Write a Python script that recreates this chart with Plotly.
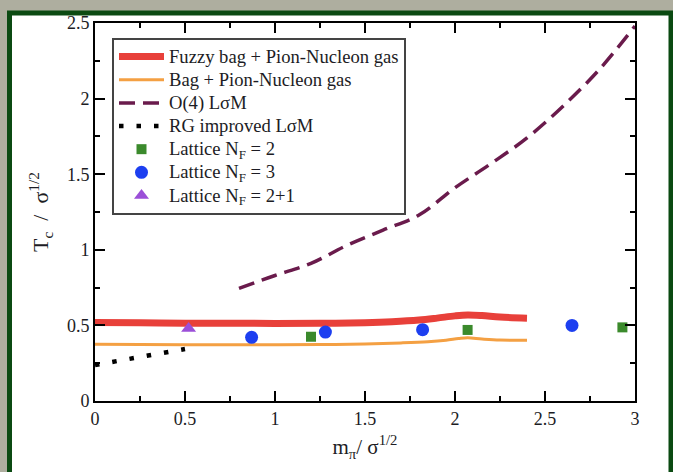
import plotly.graph_objects as go

# ---- data ----
fuzzy_x = [0.0, 0.25, 0.5, 0.75, 1.0, 1.25, 1.5, 1.65, 1.8, 1.9, 2.0, 2.07, 2.15, 2.25, 2.4]
fuzzy_y = [0.520, 0.518, 0.515, 0.514, 0.513, 0.514, 0.518, 0.524, 0.535, 0.548, 0.563, 0.569, 0.565, 0.555, 0.548]

bag_x = [0.0, 0.25, 0.5, 0.75, 1.0, 1.25, 1.5, 1.7, 1.85, 1.95, 2.02, 2.07, 2.15, 2.25, 2.4]
bag_y = [0.375, 0.373, 0.372, 0.372, 0.372, 0.373, 0.377, 0.384, 0.392, 0.402, 0.413, 0.418, 0.410, 0.403, 0.402]

o4_x = [0.80, 1.0, 1.2, 1.4, 1.6, 1.8, 2.0, 2.2, 2.4, 2.6, 2.8, 3.0]
o4_y = [0.745, 0.83, 0.91, 1.03, 1.13, 1.23, 1.41, 1.57, 1.74, 1.95, 2.19, 2.48]

rg_x = [0.0, 0.1, 0.2, 0.3, 0.4, 0.5]
rg_y = [0.238, 0.258, 0.278, 0.300, 0.322, 0.344]

lat2_x = [1.20, 2.07, 2.93]
lat2_y = [0.425, 0.470, 0.487]

lat3_x = [0.87, 1.28, 1.82, 2.65]
lat3_y = [0.421, 0.456, 0.472, 0.500]

lat21_x = [0.52]
lat21_y = [0.480]

series_names = ["Fuzzy bag + Pion-Nucleon gas", "Bag + Pion-Nucleon gas", "O(4) LσM",
                "RG improved LσM", "Lattice N<sub>F</sub> = 2", "Lattice N<sub>F</sub> = 3",
                "Lattice N<sub>F</sub> = 2+1"]

x_range = [0, 3]
y_range = [0, 2.5]
major_step = 0.5
minor_step = 0.25

FONT = "'Liberation Serif', 'Times New Roman', Times, serif"
TXT = "#1c1c24"
NB = "\u00a0"


def lg(name):
    return '<span style="font-size:18.6px">' + name + '</span>'


fig = go.Figure()
fig.add_trace(go.Scatter(x=fuzzy_x, y=fuzzy_y, mode="lines", line=dict(color="#e8403a", width=7, shape="spline"),
                         name=lg(series_names[0])))
fig.add_trace(go.Scatter(x=bag_x, y=bag_y, mode="lines", line=dict(color="#f4a043", width=3, shape="spline"),
                         name=lg(series_names[1])))
fig.add_trace(go.Scatter(x=o4_x, y=o4_y, mode="lines", line=dict(color="#6a1b4c", width=3.5, dash="16px,8px", shape="spline"),
                         name=lg(series_names[2])))
fig.add_trace(go.Scatter(x=rg_x, y=rg_y, mode="lines", line=dict(color="#000000", width=4.5, dash="4.5px,13px"),
                         name=lg(series_names[3])))
fig.add_trace(go.Scatter(x=lat2_x, y=lat2_y, mode="markers", marker=dict(symbol="square", size=10, color="#3b8a2c"),
                         name=lg(series_names[4])))
fig.add_trace(go.Scatter(x=lat3_x, y=lat3_y, mode="markers", marker=dict(symbol="circle", size=13, color="#1d3ff0"),
                         name=lg(series_names[5])))
fig.add_trace(go.Scatter(x=lat21_x, y=lat21_y, mode="markers", marker=dict(symbol="triangle-up", size=13, color="#9b4fd8"),
                         name=lg(series_names[6])))

W, H = 673, 472
L, R, T, B = 95, 635, 23, 401
pw, ph = R - L, B - T


def px(xp):
    return (xp - L) / pw


def py(yp):
    return (B - yp) / ph


# white panel with dark green frame
fig.add_shape(type="rect", xref="paper", yref="paper",
              x0=px(9.5), x1=px(671), y0=py(490), y1=py(13),
              line=dict(color="#0b4a12", width=5), fillcolor="white", layer="below")


def axis_style(title_text, rng, standoff, tsize):
    return dict(range=rng, showline=True, linewidth=2, linecolor="black", mirror="ticks",
                ticks="inside", ticklen=10, tickwidth=2, tickcolor="black",
                tickmode="linear", tick0=0, dtick=major_step,
                showgrid=False, zeroline=False,
                tickfont=dict(family=FONT, size=18, color=TXT),
                minor=dict(ticks="inside", ticklen=5, tickwidth=2, tickcolor="black",
                           tick0=0, dtick=minor_step, showgrid=False),
                title=dict(text=title_text, font=dict(family=FONT, size=tsize, color=TXT), standoff=standoff))


fig.update_layout(
    width=W, height=H,
    margin=dict(l=L, r=W - R, t=T, b=H - B, autoexpand=False),
    paper_bgcolor="#aeae9f", plot_bgcolor="white",
    xaxis=axis_style("m<sub>π</sub>/ σ<sup>1/2</sup>", x_range, 12, 21),
    yaxis=axis_style("T<sub>c</sub>" + NB * 2 + "/" + NB * 2 + "σ<sup>1/2</sup>", y_range, 12, 22),
    showlegend=True,
    legend=dict(x=px(112), y=py(38), xanchor="left", yanchor="top",
                bgcolor="white", bordercolor="#444444", borderwidth=2,
                font=dict(family=FONT, size=15.5, color=TXT),
                itemwidth=45, tracegroupgap=0, traceorder="normal"),
)

fig.write_html("out.html")
